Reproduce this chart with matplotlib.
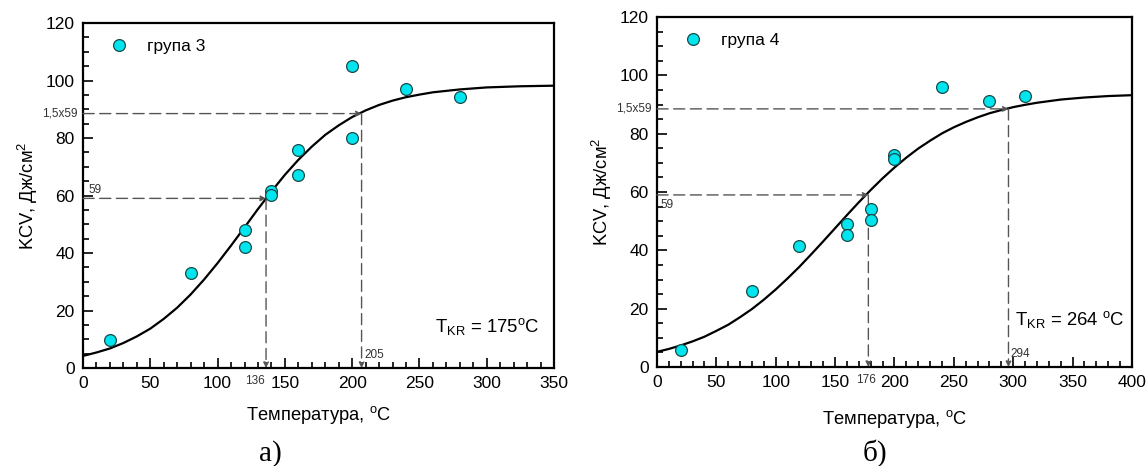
import matplotlib
matplotlib.use("Agg")
import matplotlib.pyplot as plt
from matplotlib.ticker import MultipleLocator

plt.rcParams["font.family"] = ["Liberation Sans", "DejaVu Sans"]
plt.rcParams["mathtext.fontset"] = "custom"
plt.rcParams["mathtext.rm"] = "Liberation Sans"
plt.rcParams["mathtext.it"] = "Liberation Sans"

# --- group 3 (panel a) ---
t3 = [20, 80, 120, 120, 140, 140, 160, 160, 200, 200, 240, 280]
kcv3 = [9.7, 33, 48, 42, 61.4, 60.3, 75.8, 67, 105, 80, 97, 94.1]
curve3_t = [0, 10, 20, 30, 40, 50, 60, 70, 80, 90, 100, 110, 120, 130, 140, 150, 160,
            170, 180, 190, 200, 210, 220, 230, 240, 250, 260, 280, 300, 325, 350]
curve3_v = [4.2, 5.4, 6.8, 8.7, 11.0, 13.7, 17.1, 21.0, 25.6, 30.8, 36.5, 42.6, 48.9,
            55.3, 61.4, 67.2, 72.4, 77.0, 81.1, 84.4, 87.3, 89.6, 91.5, 93.0, 94.2,
            95.1, 95.9, 96.9, 97.6, 98.0, 98.2]
t3_low, t3_high = 136, 207

# --- group 4 (panel b) ---
t4 = [20, 80, 120, 160, 160, 180, 180, 200, 200, 240, 280, 310]
kcv4 = [5.9, 26, 41.4, 49.2, 45.4, 54.3, 50.3, 72.7, 71.4, 96.1, 91.1, 93.0]
curve4_t = [0, 10, 20, 30, 40, 50, 60, 70, 80, 90, 100, 110, 120, 130, 140, 150, 160,
            170, 180, 190, 200, 210, 220, 230, 240, 250, 260, 270, 280, 290, 300, 310,
            320, 340, 360, 380, 400]
curve4_v = [5.2, 6.2, 7.4, 8.8, 10.4, 12.4, 14.5, 17.1, 19.9, 23.1, 26.6, 30.4, 34.4,
            38.7, 43.1, 47.6, 52.1, 56.5, 60.7, 64.7, 68.4, 71.8, 74.9, 77.6, 80.1,
            82.2, 84.0, 85.6, 87.0, 88.1, 89.1, 89.9, 90.6, 91.7, 92.4, 92.9, 93.2]
t4_low, t4_high = 178, 296

kcv_ref = 59
kcv_high = 1.5 * 59

fig = plt.figure(figsize=(11.47, 4.66), dpi=100)
ax1 = fig.add_axes([0.0724, 0.2103, 0.4106, 0.7403])
ax2 = fig.add_axes([0.5728, 0.2124, 0.4141, 0.7511])

arrow_kw = dict(arrowstyle="-|>", color="#555555", lw=1.0, linestyle=(0, (8, 4)),
                mutation_scale=8, shrinkA=0, shrinkB=0)


def setup(ax, xmax, xs, ys, ct, cv, label, xpad):
    ax.plot(ct, cv, color="black", lw=1.6, zorder=3)
    ax.plot(xs, ys, "o", ms=8.5, mfc="#00e5ee", mec="#1a4a4a", mew=0.9,
            zorder=4, label=label)
    ax.set_xlim(0, xmax)
    ax.set_ylim(0, 120)
    ax.xaxis.set_major_locator(MultipleLocator(50))
    ax.xaxis.set_minor_locator(MultipleLocator(10))
    ax.yaxis.set_major_locator(MultipleLocator(20))
    ax.yaxis.set_minor_locator(MultipleLocator(5))
    ax.tick_params(which="both", direction="in", top=False, right=False,
                   labelsize=12.5, width=1.2)
    ax.tick_params(which="major", length=7, pad=6)
    ax.tick_params(which="minor", length=4)
    for s in ax.spines.values():
        s.set_linewidth(1.6)
    ax.set_xlabel("Температура, $^{o}$C", fontsize=13.2, labelpad=xpad)
    ax.set_ylabel("KCV, Дж/см$^{2}$", fontsize=13.2, labelpad=4)
    ax.legend(loc="upper left", frameon=False, fontsize=12.5, handlelength=1.0,
              handletextpad=1.1, borderaxespad=0.5, bbox_to_anchor=(0.025, 1.0))


def guides(ax, tl, th):
    ax.annotate("", xy=(tl, kcv_ref), xytext=(0, kcv_ref), arrowprops=arrow_kw)
    ax.annotate("", xy=(tl, 0), xytext=(tl, kcv_ref), arrowprops=arrow_kw)
    ax.annotate("", xy=(th, kcv_high), xytext=(0, kcv_high), arrowprops=arrow_kw)
    ax.annotate("", xy=(th, 0), xytext=(th, kcv_high), arrowprops=arrow_kw)
    ax.text(-0.012, kcv_high, "1,5x59", transform=ax.get_yaxis_transform(),
            ha="right", va="center", fontsize=8.5, color="#333333")


setup(ax1, 350, t3, kcv3, curve3_t, curve3_v, "група 3", 9)
guides(ax1, t3_low, t3_high)
ax1.text(4, kcv_ref + 0.8, "59", fontsize=8.5, color="#333333", va="bottom")
ax1.text(t3_low - 1, -2.5, "136", fontsize=8.5, color="#333333", ha="right", va="top",
         clip_on=False)
ax1.text(t3_high + 2, 2.5, "205", fontsize=8.5, color="#333333", ha="left", va="bottom")
ax1.text(0.97, 0.12, "T$_{KR}$ = 175$^{o}$C", transform=ax1.transAxes, ha="right",
         va="center", fontsize=13.3)

setup(ax2, 400, t4, kcv4, curve4_t, curve4_v, "група 4", 13)
guides(ax2, t4_low, t4_high)
ax2.text(3, kcv_ref - 1.5, "59", fontsize=8.5, color="#333333", va="top")
ax2.text(t4_low - 2, -2.5, "176", fontsize=8.5, color="#333333", ha="center", va="top",
         clip_on=False)
ax2.text(t4_high + 2, 2.5, "294", fontsize=8.5, color="#333333", ha="left", va="bottom")
ax2.text(0.985, 0.135, "T$_{KR}$ = 264 $^{o}$C", transform=ax2.transAxes, ha="right",
         va="center", fontsize=13.3)

fig.text(0.2355, 0.012, "а)", fontsize=21, family=["Liberation Serif", "DejaVu Serif"],
         ha="center", va="baseline")
fig.text(0.763, 0.012, "б)", fontsize=21, family=["Liberation Serif", "DejaVu Serif"],
         ha="center", va="baseline")

fig.savefig("out.png", dpi=100)
